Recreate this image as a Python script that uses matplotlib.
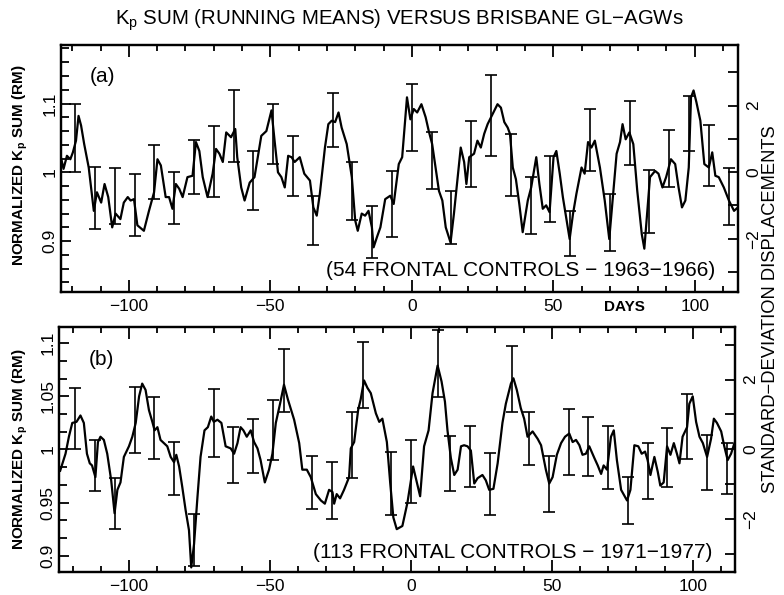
"""
Kp sum (running means) versus Brisbane GL-AGWs
Two stacked panels with standard-deviation scale on the right.
"""

import numpy as np
import matplotlib
matplotlib.use("Agg")
import matplotlib.pyplot as plt
from matplotlib.ticker import MultipleLocator, FuncFormatter

plt.rcParams["font.family"] = ["Liberation Sans", "DejaVu Sans"]
plt.rcParams["mathtext.fontset"] = "custom"
plt.rcParams["mathtext.rm"] = "Liberation Sans"
plt.rcParams["mathtext.bf"] = "Liberation Sans:bold"
plt.rcParams["axes.unicode_minus"] = True

# ---- panel (a): 54 frontal controls, 1963-1966 ----
A_DAYS = [
    -125.1, -123.1, -121.9, -120.7, -119.8, -118.7, -117.8, -116.9, -115.8, -114.2,
    -112.4, -111.3, -109.8, -108.6, -107.3, -105.9, -104.7, -103.0, -101.8, -100.4,
    -99.4, -98.2, -97.0, -94.7, -92.9, -91.1, -89.9, -88.7, -87.0, -85.8,
    -84.6, -83.4, -82.2, -81.0, -79.3, -77.5, -76.3, -75.1, -73.9, -72.2,
    -70.4, -69.2, -68.0, -66.8, -65.6, -63.9, -62.4, -61.7, -60.3, -59.1,
    -57.3, -55.6, -53.2, -51.4, -49.6, -48.5, -47.3, -46.1, -44.9, -43.7,
    -42.5, -41.4, -39.6, -38.0, -36.0, -34.8, -33.6, -32.5, -30.7, -29.5,
    -28.3, -27.1, -25.9, -24.8, -23.0, -21.2, -20.0, -19.1, -17.7, -16.5,
    -15.3, -14.1, -13.5, -12.3, -11.1, -9.4, -7.6, -6.4, -4.6, -3.4,
    -1.7, -0.5, 0.7, 1.9, 3.4, 4.9, 6.0, 7.2, 8.4, 9.6,
    10.8, 12.0, 13.7, 14.9, 16.1, 17.3, 18.5, 19.3, 20.3, 22.0,
    23.2, 24.4, 25.6, 26.8, 28.6, 30.3, 31.5, 32.7, 33.9, 34.7,
    35.7, 36.8, 38.0, 39.2, 41.0, 42.2, 44.0, 45.1, 46.3, 47.5,
    48.7, 50.1, 51.1, 52.3, 53.4, 55.8, 57.0, 58.2, 60.0, 61.1,
    62.3, 63.5, 64.7, 66.5, 68.2, 69.8, 71.2, 72.4, 73.6, 74.5,
    75.6, 76.9, 78.3, 79.7, 81.3, 82.2, 83.1, 84.2, 86.0, 87.2,
    88.6, 89.9, 91.6, 93.1, 94.3, 95.5, 96.7, 97.9, 98.7, 99.6,
    100.6, 102.0, 103.4, 105.0, 106.2, 107.3, 108.5, 110.3, 112.1, 113.9,
    115.3,
]
A_KP = [
    1.041, 1.005, 1.024, 1.019, 1.029, 1.046, 1.082, 1.068, 1.041, 1.007,
    0.944, 0.971, 0.956, 0.983, 0.964, 0.920, 0.940, 0.932, 0.956, 0.964,
    0.959, 0.961, 0.923, 0.915, 0.944, 0.971, 1.019, 1.010, 0.964, 0.964,
    0.947, 0.983, 0.976, 0.964, 0.993, 0.995, 1.044, 1.031, 0.993, 0.964,
    0.998, 1.034, 1.027, 1.015, 1.058, 1.051, 1.063, 1.022, 0.978, 0.959,
    0.985, 0.993, 1.053, 1.060, 1.090, 1.046, 1.000, 0.993, 0.978, 1.024,
    1.022, 1.015, 1.022, 0.998, 0.988, 0.949, 0.937, 0.969, 1.036, 1.070,
    1.075, 1.073, 1.087, 1.065, 1.041, 0.993, 0.930, 0.915, 0.940, 0.937,
    0.944, 0.920, 0.891, 0.906, 0.920, 0.961, 0.966, 0.954, 1.012, 1.022,
    1.109, 1.077, 1.092, 1.087, 1.099, 1.080, 1.060, 1.041, 1.007, 0.973,
    0.959, 0.920, 0.898, 0.940, 0.988, 1.036, 1.015, 0.983, 1.022, 1.027,
    1.046, 1.036, 1.056, 1.070, 1.085, 1.099, 1.094, 1.073, 1.065, 1.056,
    1.007, 0.990, 0.954, 0.913, 0.959, 0.978, 1.022, 0.983, 0.947, 0.952,
    0.942, 1.022, 1.031, 0.998, 0.964, 0.903, 0.940, 0.969, 1.007, 0.998,
    1.044, 1.036, 1.046, 1.007, 0.959, 0.903, 0.969, 1.027, 1.044, 1.070,
    1.048, 1.058, 1.041, 0.973, 0.910, 0.889, 0.935, 0.993, 1.002, 0.998,
    0.978, 0.993, 1.019, 1.012, 0.978, 0.949, 0.959, 1.007, 1.109, 1.119,
    1.102, 1.075, 1.012, 1.007, 1.029, 0.995, 0.993, 0.978, 0.959, 0.944,
    0.949,
]
A_BAR_DAYS = [-119, -112, -105, -98, -91, -84, -77, -70, -63, -56, -49, -42,
              -35, -28, -21, -14, -7, 0, 7, 14, 21, 28, 35, 42, 49, 56, 63,
              70, 77, 84, 91, 98, 105, 112]
A_BAR_HI = [1.099, 1.008, 1.007, 0.998, 1.039, 1.000, 1.047, 1.068, 1.119, 1.031,
            1.099, 1.053, 0.965, 1.116, 1.015, 0.951, 1.002, 1.128, 1.058, 0.973,
            1.074, 1.141, 1.055, 0.993, 1.023, 0.944, 1.092, 0.968, 1.103, 1.003,
            1.061, 1.111, 1.069, 1.007]
A_BAR_LO = [1.000, 0.918, 0.925, 0.908, 0.961, 0.925, 0.969, 0.964, 1.015, 0.945,
            1.012, 0.966, 0.894, 1.037, 0.930, 0.876, 0.906, 1.031, 0.976, 0.896,
            0.978, 1.024, 0.966, 0.910, 0.928, 0.879, 1.002, 0.885, 1.010, 0.912,
            0.978, 1.031, 0.980, 0.924]

# ---- panel (b): 113 frontal controls, 1971-1977 ----
B_DAYS = [
    -124.4, -122.5, -121.3, -120.1, -118.6, -117.2, -116.0, -114.9, -113.9, -113.1,
    -111.9, -111.0, -110.1, -108.9, -107.7, -106.3, -105.1, -104.1, -103.0, -101.8,
    -100.0, -98.8, -97.6, -96.4, -95.3, -94.1, -92.9, -91.7, -90.9, -89.9,
    -88.8, -87.6, -86.4, -85.2, -84.0, -83.2, -82.2, -81.1, -79.9, -78.7,
    -77.9, -76.9, -75.7, -74.6, -73.2, -72.0, -70.8, -69.9, -68.6, -67.2,
    -65.7, -63.9, -62.7, -61.5, -60.4, -59.4, -58.2, -56.8, -55.6, -54.4,
    -53.3, -51.8, -50.3, -49.1, -47.9, -46.4, -45.0, -43.6, -41.4, -39.6,
    -38.5, -36.9, -35.5, -33.7, -31.9, -30.5, -29.0, -27.8, -27.2, -26.3,
    -25.1, -23.7, -21.9, -21.3, -20.1, -18.7, -17.8, -16.6, -15.4, -14.2,
    -12.4, -11.2, -10.1, -8.5, -7.3, -6.2, -5.0, -3.0, -1.2, 0.8,
    3.3, 4.7, 6.3, 7.7, 9.5, 10.9, 12.1, 13.0, 14.2, 15.4,
    16.6, 17.8, 18.9, 20.1, 21.3, 22.5, 23.7, 25.4, 26.6, 27.8,
    29.3, 30.8, 32.5, 33.7, 35.5, 36.4, 37.6, 39.0, 40.2, 41.4,
    43.2, 45.0, 46.2, 47.9, 49.1, 50.3, 51.8, 53.3, 54.7, 56.2,
    57.4, 58.6, 59.8, 60.9, 62.1, 63.3, 65.1, 66.3, 67.5, 68.4,
    69.6, 71.0, 72.0, 73.1, 74.6, 76.7, 77.9, 79.3, 80.7, 81.9,
    83.1, 84.0, 85.0, 86.4, 87.6, 88.5, 89.7, 90.9, 92.1, 93.3,
    94.4, 95.3, 96.4, 98.0, 98.8, 100.0, 101.2, 102.4, 103.6, 105.1,
    106.5, 107.5, 108.6, 110.1, 111.2, 112.4, 113.6, 114.8,
]
B_KP = [
    0.980, 0.996, 1.012, 1.025, 1.026, 1.032, 1.025, 0.996, 0.987, 0.985,
    0.974, 1.007, 1.012, 1.009, 0.996, 0.971, 0.940, 0.962, 0.969, 0.993,
    1.003, 1.012, 1.025, 1.050, 1.062, 1.056, 1.037, 1.026, 1.018, 1.021,
    1.009, 1.006, 1.003, 0.993, 0.988, 0.995, 0.984, 0.965, 0.943, 0.924,
    0.889, 0.911, 0.955, 0.993, 1.018, 1.021, 1.031, 1.026, 1.028, 1.025,
    1.003, 1.001, 0.996, 1.006, 1.021, 1.018, 1.012, 1.018, 1.007, 1.001,
    0.990, 0.969, 0.981, 0.996, 1.025, 1.043, 1.061, 1.047, 1.028, 1.006,
    0.981, 0.981, 0.974, 0.958, 0.952, 0.949, 0.962, 0.960, 0.949, 0.958,
    0.954, 0.962, 0.974, 1.001, 1.007, 1.037, 1.047, 1.065, 1.058, 1.053,
    1.034, 1.026, 1.029, 1.007, 0.968, 0.936, 0.925, 0.928, 0.950, 0.984,
    0.956, 1.003, 1.018, 1.053, 1.079, 1.064, 1.045, 1.018, 0.992, 0.976,
    0.981, 1.003, 1.004, 1.003, 0.999, 0.968, 0.973, 0.976, 0.971, 0.962,
    0.963, 0.987, 1.025, 1.043, 1.062, 1.067, 1.056, 1.039, 1.029, 1.012,
    1.017, 1.010, 1.004, 0.981, 0.968, 0.974, 0.995, 1.006, 1.012, 1.015,
    1.007, 1.009, 1.004, 0.995, 0.996, 1.003, 0.992, 0.985, 0.977, 0.985,
    0.981, 1.012, 1.018, 0.990, 0.962, 0.952, 0.962, 1.004, 1.003, 0.996,
    0.998, 0.990, 0.976, 0.993, 0.979, 0.966, 0.969, 1.003, 0.995, 1.006,
    0.996, 0.987, 1.012, 1.021, 1.043, 1.050, 1.026, 1.012, 1.006, 0.993,
    1.010, 1.029, 1.025, 1.017, 1.003, 0.990, 0.996, 1.006,
]
B_BAR_DAYS = [-119, -112, -105, -98, -91, -84, -77, -70, -63, -56, -49, -45,
              -35, -28, -21, -17, -7, 0, 9.5, 14, 21, 28, 36, 42, 49, 56, 63,
              70, 77, 84, 91, 98, 105, 112]
B_BAR_HI = [1.058, 1.009, 0.973, 1.059, 1.049, 1.007, 0.939, 1.057, 1.021, 1.029,
            1.047, 1.095, 0.994, 0.988, 1.035, 1.101, 0.998, 1.009, 1.112, 1.013,
            1.022, 0.997, 1.097, 1.035, 0.994, 1.038, 1.031, 1.022, 0.974, 1.006,
            1.020, 1.052, 1.014, 1.006]
B_BAR_LO = [1.000, 0.961, 0.925, 0.997, 0.991, 0.957, 0.890, 0.993, 0.968, 0.978,
            0.990, 1.035, 0.944, 0.935, 0.973, 1.039, 0.938, 0.950, 1.049, 0.961,
            0.965, 0.938, 1.035, 0.985, 0.941, 0.976, 0.975, 0.963, 0.930, 0.953,
            0.965, 0.991, 0.962, 0.958]

TITLE = r"K$_\mathrm{p}$ SUM (RUNNING MEANS) VERSUS BRISBANE GL−AGWs"
YLABEL = r"NORMALIZED K$_\mathbf{p}$ SUM (RM)"
SD_LABEL = "STANDARD−DEVIATION DISPLACEMENTS"


def draw_panel(ax, days, kp, bar_days, bar_lo, bar_hi, xlim, ylim, sd_lim,
               y_major, y_minor, tag, tag_xy, note, note_xy):
    ax.plot(days, kp, color="black", lw=1.6, solid_joinstyle="round")

    lo = np.array(bar_lo)
    hi = np.array(bar_hi)
    ax.errorbar(bar_days, (lo + hi) / 2, yerr=(hi - lo) / 2, fmt="none",
                ecolor="black", elinewidth=1.2, capsize=4.5, capthick=1.2)

    ax.set_xlim(*xlim)
    ax.set_ylim(*ylim)
    ax.xaxis.set_major_locator(MultipleLocator(50))
    ax.xaxis.set_minor_locator(MultipleLocator(10))
    ax.yaxis.set_major_locator(MultipleLocator(y_major))
    ax.yaxis.set_minor_locator(MultipleLocator(y_minor))
    ax.yaxis.set_major_formatter(FuncFormatter(lambda v, p: f"{round(v, 3):g}"))

    ax.tick_params(which="both", direction="in", top=True, right=False, width=1.3)
    ax.tick_params(axis="x", which="major", length=8.5, labelsize=12.5, pad=5)
    ax.tick_params(axis="x", which="minor", length=4)
    ax.tick_params(axis="y", which="major", length=7, labelsize=12.5,
                   labelrotation=90, pad=2.5)
    ax.tick_params(axis="y", which="minor", length=6)
    plt.setp(ax.get_yticklabels(), va="center")
    for s in ax.spines.values():
        s.set_linewidth(1.6)

    sd = ax.twinx()
    sd.set_ylim(*sd_lim)
    sd.yaxis.set_major_locator(MultipleLocator(2))
    sd.yaxis.set_minor_locator(MultipleLocator(1))
    sd.tick_params(which="both", direction="in", length=7, width=1.3)
    sd.tick_params(axis="y", labelsize=12.5, labelrotation=90, pad=6)
    plt.setp(sd.get_yticklabels(), va="center")
    for s in sd.spines.values():
        s.set_linewidth(1.6)

    ax.text(*tag_xy, tag, transform=ax.transAxes, ha="center", va="center",
            fontsize=15)
    ax.text(*note_xy, note, transform=ax.transAxes, ha="right", va="center",
            fontsize=15)
    return sd


def main():
    fig = plt.figure(figsize=(7.84, 5.95), dpi=100)
    ax_a = fig.add_axes([0.0778, 0.5092, 0.8635, 0.4151])
    ax_b = fig.add_axes([0.0753, 0.0392, 0.8622, 0.4118])

    draw_panel(ax_a, A_DAYS, A_KP, A_BAR_DAYS, A_BAR_LO, A_BAR_HI,
               (-124, 115.3), (0.826, 1.185), (-3.60, 3.82), 0.1, 0.02,
               "(a)", (0.062, 0.874),
               "(54 FRONTAL CONTROLS − 1963−1966)", (0.966, 0.089))
    draw_panel(ax_b, B_DAYS, B_KP, B_BAR_DAYS, B_BAR_LO, B_BAR_HI,
               (-124.8, 115), (0.885, 1.1156), (-3.52, 3.52), 0.05, 0.05 / 3,
               "(b)", (0.063, 0.864),
               "(113 FRONTAL CONTROLS − 1971−1977)", (0.967, 0.080))

    ax_a.text(75, -0.062, "DAYS", transform=ax_a.get_xaxis_transform(),
              ha="center", va="center", fontsize=11, fontweight="bold")

    fig.text(0.509, 0.966, TITLE, ha="center", va="center", fontsize=14.7)
    fig.text(0.0255, 0.722, YLABEL, rotation=90, ha="center", va="center",
             fontsize=11, fontweight="bold")
    fig.text(0.0255, 0.245, YLABEL, rotation=90, ha="center", va="center",
             fontsize=11, fontweight="bold")
    fig.text(0.983, 0.481, SD_LABEL, rotation=90, ha="center", va="center",
             fontsize=13.2)

    fig.savefig("out.png", dpi=100, facecolor="white")
    plt.close(fig)


if __name__ == "__main__":
    main()
